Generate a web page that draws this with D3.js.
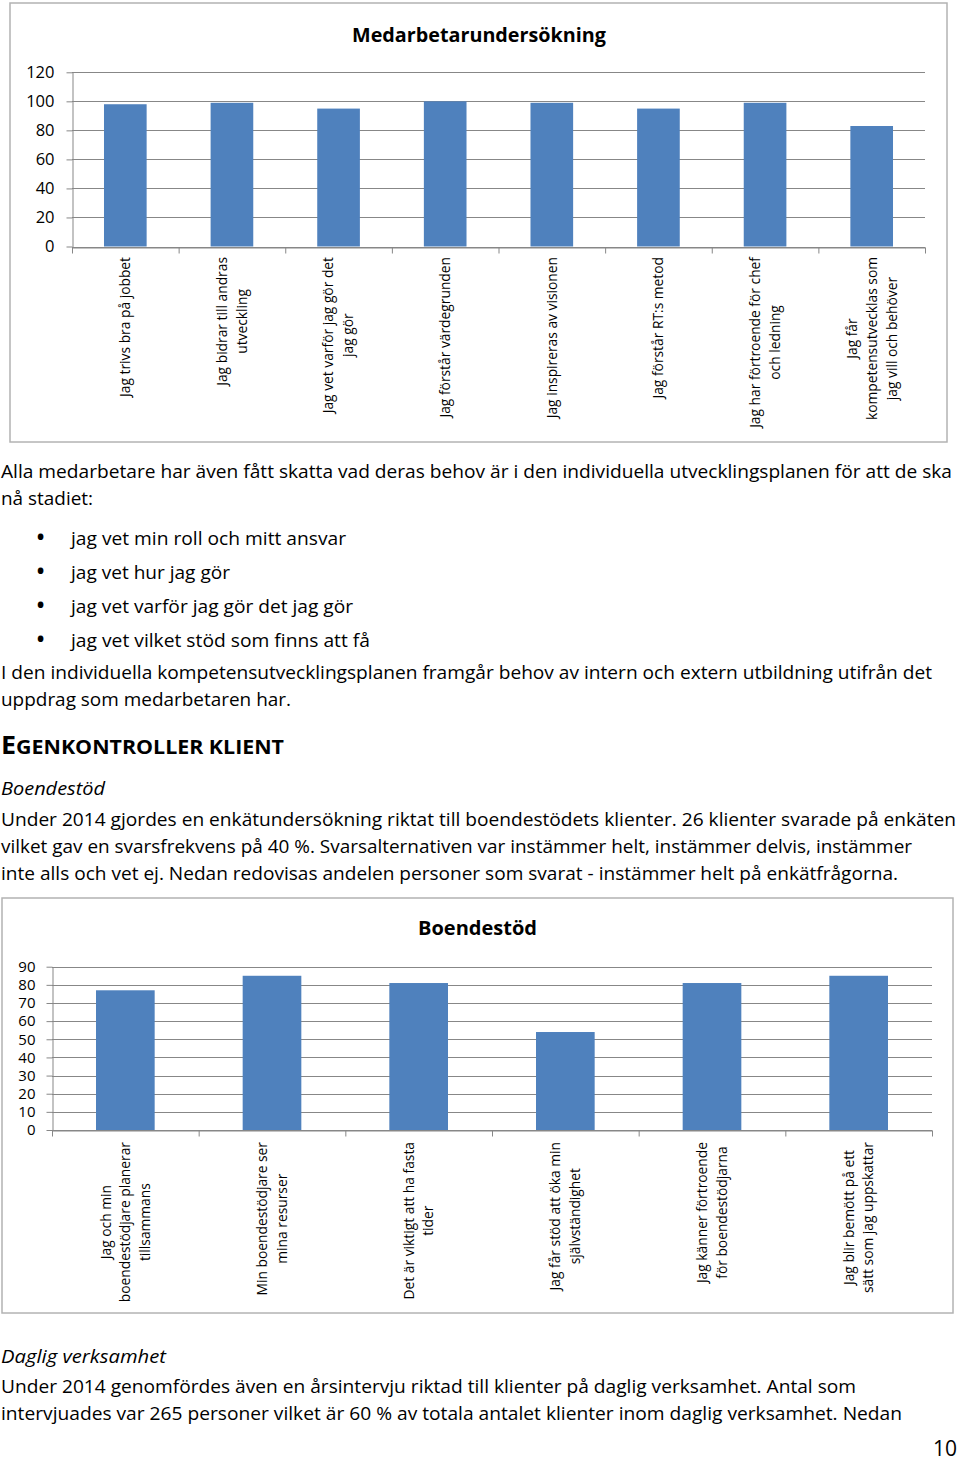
<!DOCTYPE html>
<html>
<head>
<meta charset="utf-8">
<script src="https://cdn.jsdelivr.net/npm/d3@7"></script>
<style>
  html, body { margin: 0; padding: 0; background: #fff; }
  svg { display: block; }
  text { font-family: "Open Sans", "DejaVu Sans", sans-serif; fill: #000; }
</style>
</head>
<body>
<svg id="page" width="960" height="1461"></svg>
<script>
// ---------- DATA ----------
const chart1Title = "Medarbetarundersökning";
const chart1Categories = [
  ["Jag trivs bra på jobbet"],
  ["Jag bidrar till andras", "utveckling"],
  ["Jag vet varför jag gör det", "jag gör"],
  ["Jag förstår värdegrunden"],
  ["Jag inspireras av visionen"],
  ["Jag förstår RT:s metod"],
  ["Jag har förtroende för chef", "och ledning"],
  ["Jag får", "kompetensutvecklas som", "jag vill och behöver"]
];
const chart1Values = [98, 99, 95, 100, 99, 95, 99, 83];
const chart1Ticks = [0, 20, 40, 60, 80, 100, 120];

const chart2Title = "Boendestöd";
const chart2Categories = [
  ["Jag och min", "boendestödjare planerar", "tillsammans"],
  ["Min boendestödjare ser", "mina resurser"],
  ["Det är viktigt att ha fasta", "tider"],
  ["Jag får stöd att öka min", "självständighet"],
  ["Jag känner förtroende", "för boendestödjarna"],
  ["Jag blir bemött på ett", "sätt som jag uppskattar"]
];
const chart2Values = [77, 85, 81, 54, 81, 85];
const chart2Ticks = [0, 10, 20, 30, 40, 50, 60, 70, 80, 90];

const introLines = [
  "Alla medarbetare har även fått skatta vad deras behov är i den individuella utvecklingsplanen för att de ska",
  "nå stadiet:"
];
const bulletItems = [
  "jag vet min roll och mitt ansvar",
  "jag vet hur jag gör",
  "jag vet varför jag gör det jag gör",
  "jag vet vilket stöd som finns att få"
];
const planLines = [
  "I den individuella kompetensutvecklingsplanen framgår behov av intern och extern utbildning utifrån det",
  "uppdrag som medarbetaren har."
];
const headingFirst = "E";
const headingRest = "GENKONTROLLER KLIENT";
const subheading1 = "Boendestöd";
const boendeLines = [
  "Under 2014 gjordes en enkätundersökning riktat till boendestödets klienter. 26 klienter svarade på enkäten",
  "vilket gav en svarsfrekvens på 40 %. Svarsalternativen var instämmer helt, instämmer delvis, instämmer",
  "inte alls och vet ej. Nedan redovisas andelen personer som svarat - instämmer helt på enkätfrågorna."
];
const subheading2 = "Daglig verksamhet";
const dagligLines = [
  "Under 2014 genomfördes även en årsintervju riktad till klienter på daglig verksamhet. Antal som",
  "intervjuades var 265 personer vilket är 60 % av totala antalet klienter inom daglig verksamhet. Nedan"
];
const pageNumber = "10";

// ---------- DRAWING ----------
const svg = d3.select("#page");
const BAR = "#4f81bd";
const GRID = "#878787";
const FRAME = "#b3b3b3";

function drawChart(cfg) {
  const g = svg.append("g");
  g.append("rect")
    .attr("x", cfg.frame[0]).attr("y", cfg.frame[1])
    .attr("width", cfg.frame[2]).attr("height", cfg.frame[3])
    .attr("fill", "#fff").attr("stroke", FRAME).attr("stroke-width", 1.5);

  g.append("text")
    .attr("x", cfg.titleX).attr("y", cfg.titleY)
    .attr("text-anchor", "middle")
    .attr("font-weight", "bold")
    .attr("font-size", cfg.titleSize)
    .attr("textLength", cfg.titleLen).attr("lengthAdjust", "spacingAndGlyphs")
    .text(cfg.title);

  const y = d3.scaleLinear().domain([0, cfg.max]).range([cfg.y0, cfg.y1]);
  const n = cfg.values.length;
  const x = d3.scaleBand().domain(d3.range(n)).range([cfg.x0, cfg.x1]).padding(0);
  const edges = d3.scaleLinear().domain([0, n]).range([cfg.x0, cfg.x1]);

  // gridlines
  g.append("g").selectAll("line").data(cfg.ticks).join("line")
    .attr("x1", cfg.x0).attr("x2", cfg.x1)
    .attr("y1", d => Math.round(y(d)) + 0.5).attr("y2", d => Math.round(y(d)) + 0.5)
    .attr("stroke", GRID).attr("stroke-width", 1);

  // y axis
  const ya = g.append("g").attr("transform", `translate(${cfg.x0 + 0.5},0)`)
    .call(d3.axisLeft(y).tickValues(cfg.ticks).tickSize(6).tickSizeOuter(0).tickPadding(cfg.tickPad));
  ya.selectAll("path, line").attr("stroke", GRID);
  ya.selectAll("text")
    .attr("font-family", '"Open Sans", sans-serif')
    .attr("font-size", cfg.tickSize).attr("fill", "#000");

  // bars
  const bw = x.bandwidth() * 0.4;
  g.append("g").selectAll("rect").data(cfg.values).join("rect")
    .attr("x", (d, i) => x(i) + (x.bandwidth() - bw) / 2)
    .attr("width", bw)
    .attr("y", d => y(d))
    .attr("height", d => y(0) - y(d))
    .attr("fill", BAR);

  // x axis
  const xa = g.append("g").attr("transform", `translate(0,${Math.round(y(0)) + 0.5})`)
    .call(d3.axisBottom(edges).tickValues(d3.range(n + 1)).tickSize(6).tickSizeOuter(0).tickFormat(() => ""));
  xa.selectAll("path, line").attr("stroke", GRID);

  // category labels (rotated, wrapped, centred on the longest line)
  cfg.categories.forEach((lines, i) => {
    const cx = x(i) + x.bandwidth() / 2;
    const lg = g.append("g").attr("transform", `translate(${cx},${cfg.labelTop}) rotate(-90)`);
    const texts = lines.map((ln, j) => lg.append("text")
      .attr("font-size", cfg.labelSize)
      .attr("text-anchor", "middle")
      .attr("y", (j - (lines.length - 1) / 2) * cfg.lineH)
      .attr("dy", "0.35em")
      .text(ln));
    const maxLen = d3.max(texts, t => t.node().getComputedTextLength());
    texts.forEach(t => t.attr("x", -maxLen / 2));
  });
}

drawChart({
  frame: [10, 3, 937, 439],
  title: chart1Title, titleX: 479, titleY: 41.5, titleSize: 19, titleLen: 254,
  x0: 72, x1: 925, y0: 246.5, y1: 72.3, max: 120,
  values: chart1Values, categories: chart1Categories, ticks: chart1Ticks,
  tickSize: 16.5, tickPad: 12, labelSize: 13.8, labelTop: 257, lineH: 20
});

drawChart({
  frame: [2, 898, 951, 415],
  title: chart2Title, titleX: 477.5, titleY: 935, titleSize: 19, titleLen: 119,
  x0: 52, x1: 932, y0: 1130, y1: 966.7, max: 90,
  values: chart2Values, categories: chart2Categories, ticks: chart2Ticks,
  tickSize: 15, tickPad: 11, labelSize: 13.8, labelTop: 1142, lineH: 19.5
});

// ---------- BODY TEXT ----------
const BODY = 18.5;
function line(xp, yp, txt, w, opts = {}) {
  const t = svg.append("text").attr("x", xp).attr("y", yp)
    .attr("font-size", opts.size || BODY)
    .attr("font-style", opts.italic ? "italic" : null)
    .text(txt);
  if (w) t.attr("textLength", w).attr("lengthAdjust", "spacingAndGlyphs");
  return t;
}

const introW = [951, 92];
introLines.forEach((t, i) => line(1, [478, 505][i], t, introW[i]));

const bulletY = [545, 579, 613, 647];
const bulletW = [275, 159, 282, 299];
bulletItems.forEach((t, i) => {
  svg.append("text").attr("x", 40.5).attr("y", bulletY[i] + 2)
    .attr("text-anchor", "middle").attr("font-size", 27).text("•");
  line(71, bulletY[i], t, bulletW[i]);
});

const planW = [931, 290];
planLines.forEach((t, i) => line(1, [679, 706][i], t, planW[i]));

const head = svg.append("text").attr("x", 1).attr("y", 754)
  .attr("font-weight", "bold")
  .attr("textLength", 283).attr("lengthAdjust", "spacingAndGlyphs");
head.append("tspan").attr("font-size", 24.5).text(headingFirst);
head.append("tspan").attr("font-size", 19.5).text(headingRest);

line(1, 795, subheading1, 104, { italic: true });

const boendeW = [955, 911, 897];
boendeLines.forEach((t, i) => line(1, [826, 853, 880][i], t, boendeW[i]));

line(1, 1363, subheading2, 165, { italic: true });

const dagligW = [855, 901];
dagligLines.forEach((t, i) => line(1, [1393, 1420][i], t, dagligW[i]));

svg.append("text").attr("x", 957).attr("y", 1456)
  .attr("text-anchor", "end")
  .attr("font-family", '"Liberation Serif", "DejaVu Serif", serif')
  .attr("font-size", 21).text(pageNumber);
</script>
</body>
</html>
